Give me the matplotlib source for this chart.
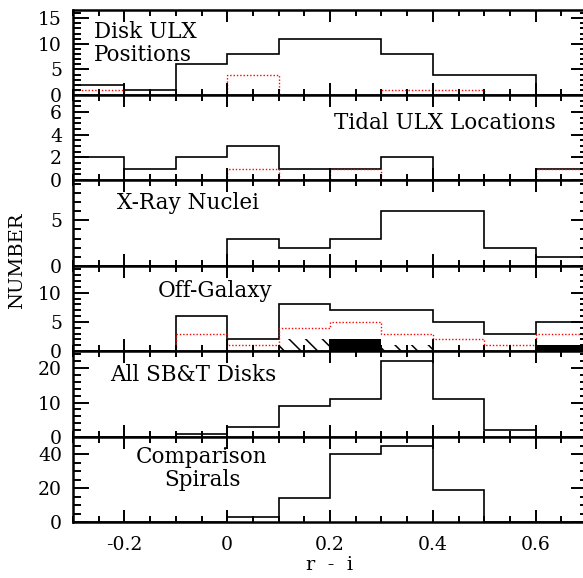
import numpy as np
import matplotlib
matplotlib.use('Agg')
import matplotlib.pyplot as plt
from matplotlib.ticker import MultipleLocator, FuncFormatter

plt.rcParams['font.family'] = ['DejaVu Serif']
plt.rcParams['hatch.linewidth'] = 1.1

# bin edges in r - i
edges = np.round(np.arange(-0.3, 0.71, 0.1), 2)

# counts per bin (10 bins from -0.3 to 0.7)
disk_all = [2, 1, 6, 8, 11, 11, 8, 4, 4, 0]
disk_red = [1, 0, 0, 4, 0, 0, 1, 1, 0, 0]
tidal_all = [2, 1, 2, 3, 1, 1, 2, 0, 0, 1]
tidal_red = [0, 0, 0, 1, 0, 1, 0, 0, 0, 1]
nuclei = [0, 0, 0, 3, 2, 3, 6, 6, 2, 1]
offgal_all = [0, 0, 6, 2, 8, 7, 7, 5, 3, 5]
offgal_red = [0, 0, 3, 1, 4, 5, 3, 2, 1, 3]
offgal_hatch = [0, 0, 0, 0, 2, 0, 1, 0, 0, 0]
offgal_solid = [0, 0, 0, 0, 0, 2, 0, 0, 0, 1]
sbt_disks = [0, 0, 1, 3, 9, 11, 22, 11, 2, 0]
comparison = [0, 0, 0, 3, 14, 40, 45, 19, 0, 0]

# panel settings: y max, major step, minor step
ymax = [16.6, 7.5, 9.4, 14.6, 25, 50]
ymajor = [5, 2, 5, 5, 10, 20]
yminor = [1, 0.5, 1, 1, 2, 5]

W, H = 583, 578
fig = plt.figure(figsize=(W / 100, H / 100), dpi=100)

def px(x, y):
    return x / W, 1 - y / H

# panel edges in pixels (top, bottom)
rows = [(10, 95), (95, 180), (180, 266), (266, 351), (351, 437), (437, 522)]
left, right = 73, 587

axes = []
for i, (t, b) in enumerate(rows):
    ax = fig.add_axes([left / W, 1 - b / H, (right - left) / W, (b - t) / H])
    ax.set_xlim(-0.3, 0.7)
    ax.set_ylim(0, ymax[i])
    ax.xaxis.set_major_locator(MultipleLocator(0.2))
    ax.xaxis.set_minor_locator(MultipleLocator(0.05))
    ax.yaxis.set_major_locator(MultipleLocator(ymajor[i]))
    ax.yaxis.set_minor_locator(MultipleLocator(yminor[i]))
    ax.tick_params(which='both', direction='in', top=True, right=True,
                   width=1.4, labelsize=13.5)
    ax.tick_params(axis='x', which='major', length=8.6, pad=10)
    ax.tick_params(axis='x', which='minor', length=4.3)
    ax.tick_params(axis='y', which='major', length=11.5, pad=8)
    ax.tick_params(axis='y', which='minor', length=5.4)
    for s in ax.spines.values():
        s.set_linewidth(1.8)
    if i < 5:
        ax.tick_params(axis='x', labelbottom=False)
    axes.append(ax)

lw = 1.2
red_style = dict(color='red', lw=1.0, linestyle=(0, (1, 1.4)))

axes[0].stairs(disk_all, edges, color='k', lw=lw)
axes[0].stairs(disk_red, edges, **red_style)

axes[1].stairs(tidal_all, edges, color='k', lw=lw)
axes[1].stairs(tidal_red, edges, **red_style)

axes[2].stairs(nuclei, edges, color='k', lw=lw)

axes[3].stairs(offgal_hatch, edges, fill=True, facecolor='none',
               edgecolor='k', hatch='\\\\', lw=0)
axes[3].stairs(offgal_solid, edges, fill=True, color='k', lw=0)
axes[3].stairs(offgal_all, edges, color='k', lw=lw)
axes[3].stairs(offgal_red, edges, **red_style)

axes[4].stairs(sbt_disks, edges, color='k', lw=lw)
axes[5].stairs(comparison, edges, color='k', lw=lw)

axes[5].xaxis.set_major_formatter(FuncFormatter(lambda v, p: '%g' % round(v, 2)))

fs = 15.5
fig.text(*px(94, 38.5), 'Disk ULX', fontsize=fs, va='baseline')
fig.text(*px(94, 61), 'Positions', fontsize=fs, va='baseline')
fig.text(*px(556, 129), 'Tidal ULX Locations', fontsize=fs, va='baseline', ha='right')
fig.text(*px(117, 209.3), 'X-Ray Nuclei', fontsize=fs, va='baseline')
fig.text(*px(158, 296.7), 'Off-Galaxy', fontsize=fs, va='baseline')
fig.text(*px(110, 381), 'All SB&T Disks', fontsize=fs, va='baseline')
fig.text(*px(202, 463.5), 'Comparison', fontsize=fs, va='baseline', ha='center')
fig.text(*px(202, 486), 'Spirals', fontsize=fs, va='baseline', ha='center')

fig.text(*px(17, 261), 'NUMBER', fontsize=14, rotation=90, ha='center', va='center')
fig.text(*px(330, 570), 'r  -  i', fontsize=14, ha='center', va='baseline')

fig.savefig('out.png', dpi=100)
